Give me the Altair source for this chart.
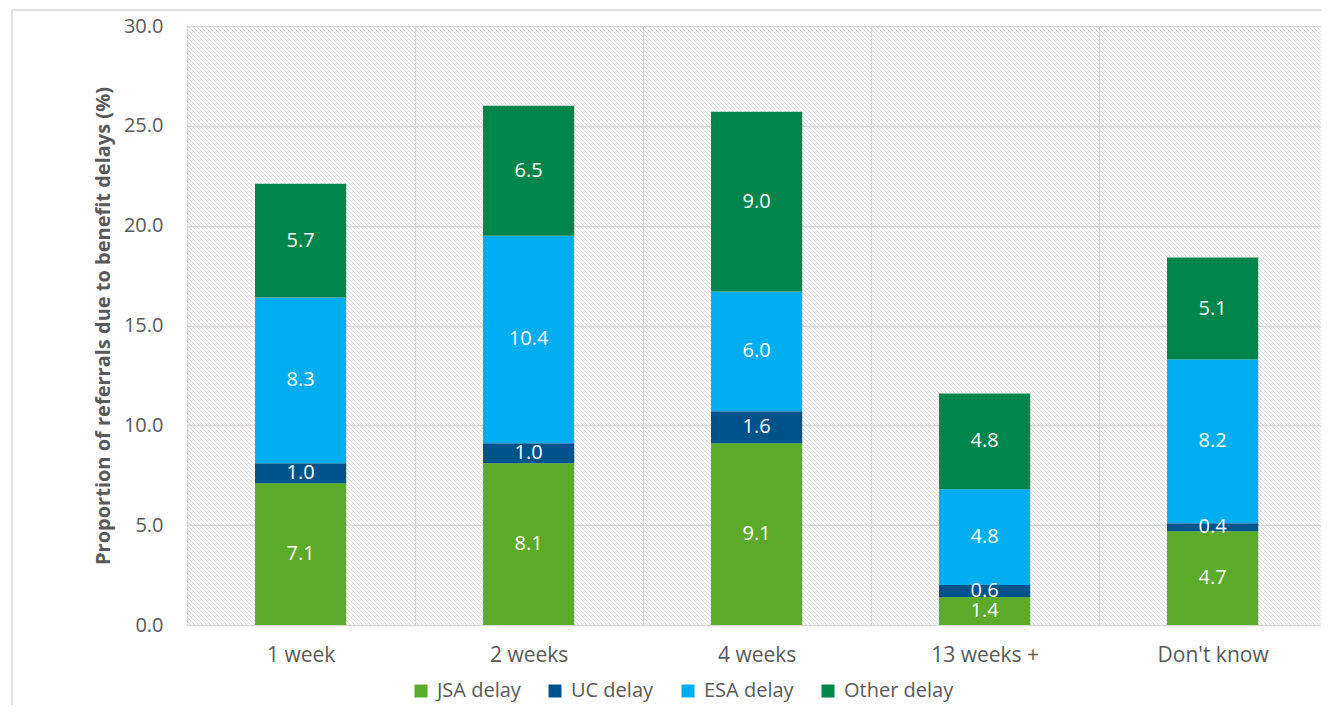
import altair as alt
import pandas as pd

categories = ["1 week", "2 weeks", "4 weeks", "13 weeks +", "Don't know"]
series = ["JSA delay", "UC delay", "ESA delay", "Other delay"]
jsa = [7.1, 8.1, 9.1, 1.4, 4.7]
uc = [1.0, 1.0, 1.6, 0.6, 0.4]
esa = [8.3, 10.4, 6.0, 4.8, 8.2]
other = [5.7, 6.5, 9.0, 4.8, 5.1]
y_ticks = [0, 5, 10, 15, 20, 25, 30]
colors = ["#5BAA2A", "#00538A", "#00AEEF", "#00854D"]

rows = []
for s_i, (s, vals) in enumerate(zip(series, [jsa, uc, esa, other])):
    for c, v in zip(categories, vals):
        rows.append({"cat": c, "series": s, "order": s_i, "value": v})
df = pd.DataFrame(rows)

W, H = 1134, 599
FONT = "Open Sans"
GREY = "#595959"
STEP = 228.0
HALF_GAP = STEP * 0.6 / 2

# hatch pattern as a striped gradient (decoration only)
stops = []
n_per = 567
for k in range(n_per):
    b = k / n_per
    p = 1 / n_per
    stops.append(alt.GradientStop(color="rgba(210,210,210,0)", offset=b))
    stops.append(alt.GradientStop(color="rgba(210,210,210,0)", offset=b + 0.45 * p))
    stops.append(alt.GradientStop(color="rgba(212,212,212,0.9)", offset=b + 0.72 * p))
stops.append(alt.GradientStop(color="rgba(210,210,210,0)", offset=1.0))
hatch_grad = alt.LinearGradient(gradient="linear", stops=stops, x1=0, y1=1, x2=1, y2=0)

base = alt.Chart(df)

xscale = alt.Scale(paddingInner=0.6, paddingOuter=0.2868, align=0.52)
xenc = alt.X("cat:N", sort=categories, title=None, scale=xscale,
             axis=alt.Axis(labelAngle=0, labelFontSize=21, labelColor=GREY, labelFont=FONT,
                           labelPadding=19, ticks=False, domain=False, grid=True,
                           bandPosition=0, tickOffset=-HALF_GAP, labelOffset=HALF_GAP,
                           gridColor="#d9d9d9", gridWidth=1.5))

hatch = alt.Chart(pd.DataFrame({"a": [0]})).mark_rect(fill=hatch_grad, clip=True).encode(
    x=alt.value(0), x2=alt.value(W), y=alt.value(0), y2=alt.value(W)
)

bars = base.mark_bar().encode(
    x=xenc,
    y=alt.Y("sum(value):Q", stack="zero", title="Proportion of referrals due to benefit delays (%)",
            scale=alt.Scale(domain=[0, 30]),
            axis=alt.Axis(values=y_ticks, format=".1f", labelFontSize=20, labelColor=GREY,
                          labelFont=FONT, labelPadding=24, ticks=False, domain=False,
                          gridColor="#d9d9d9", gridWidth=1.5,
                          titleFont=FONT, titleFontSize=20, titleFontWeight="bold",
                          titleColor=GREY, titlePadding=10)),
    color=alt.Color("series:N", sort=series,
                    scale=alt.Scale(domain=series, range=colors),
                    legend=alt.Legend(title=None, orient="none", direction="horizontal",
                                      legendX=224, legendY=655, padding=0,
                                      symbolType="square", symbolSize=169, symbolStrokeWidth=0,
                                      labelFontSize=20, labelColor=GREY, labelFont=FONT,
                                      columnPadding=24, labelOffset=6)),
    order=alt.Order("order:Q", sort="ascending"),
)

labels = base.transform_stack(
    stack="value", groupby=["cat"], as_=["y0", "y1"], sort=[alt.SortField("order", "ascending")]
).transform_calculate(
    mid="(datum.y0 + datum.y1) / 2"
).mark_text(color="white", fontSize=20, font=FONT, baseline="middle").encode(
    x=alt.X("cat:N", sort=categories, scale=xscale),
    y=alt.Y("mid:Q"),
    text=alt.Text("value:Q", format=".1f"),
)

frame = alt.Chart(pd.DataFrame({"a": [0]})).mark_rect(
    fill=None, stroke="#d9d9d9", strokeWidth=1.5, clip=False
).encode(x=alt.value(-175), x2=alt.value(W + 60), y=alt.value(-16), y2=alt.value(H + 150))

chart = alt.layer(hatch, bars, labels, frame).properties(
    width=W, height=H,
    autosize=alt.AutoSizeParams(type="none"),
    padding={"left": 179, "top": 18, "right": 0, "bottom": 80},
).configure_view(stroke="#d9d9d9", strokeWidth=1.5).configure(background="white")

chart.save("out.html", embed_options={"renderer": "svg", "actions": False})
